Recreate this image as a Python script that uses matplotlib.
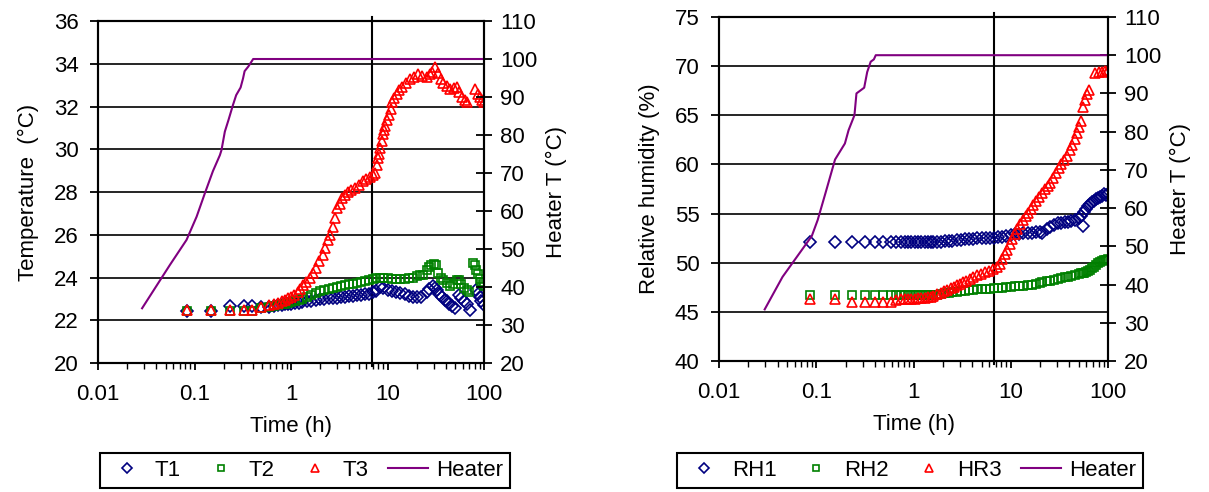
import numpy as np
import matplotlib
matplotlib.use("Agg")
import matplotlib.pyplot as plt
from matplotlib.ticker import LogLocator, NullFormatter

plt.rcParams['font.family'] = ['Liberation Sans', 'DejaVu Sans']
plt.rcParams['font.size'] = 16

#%% Data - temperature test (left panel)

heat_t_L = [0.0286, 0.0555, 0.0826, 0.105, 0.128, 0.155, 0.183, 0.190, 0.206, 0.225,
            0.250, 0.270, 0.300, 0.318, 0.330, 0.36, 0.405, 100]
heat_T_L = [34.4, 45.8, 52.4, 58.5, 64.7, 70.5, 74.7, 76.0, 80.9, 84.0,
            87.9, 90.5, 92.5, 94.9, 96.8, 98.0, 100, 100]

t1_t = [0.083, 0.148, 0.232, 0.324, 0.39, 0.484, 0.585, 0.66, 0.74, 0.8,
        0.86, 0.93, 1.0, 1.1, 1.2, 1.3, 1.45, 1.6, 1.8, 2.0,
        2.2, 2.45, 2.7, 3.0, 3.3, 3.6, 4.0, 4.4, 4.8, 5.3,
        5.8, 6.4, 7.0, 7.6, 8.3, 9.0, 10.0, 11.0, 12.2, 13.5,
        15.0, 16.5, 18.2, 20.0, 22.0, 25.5, 27.0, 29.5, 31.0, 32.6,
        34.5, 36.5, 39.0, 41.0, 43.5, 46.0, 50.0, 54.5, 58.0, 62.0,
        66.0, 71.0, 82.0, 86.0, 90.0, 94.0, 99.0]
t1_y = [22.45, 22.45, 22.65, 22.65, 22.65, 22.6, 22.6, 22.65, 22.7, 22.72,
        22.75, 22.75, 22.78, 22.8, 22.82, 22.85, 22.88, 22.9, 22.95, 23.0,
        23.0, 23.02, 23.04, 23.05, 23.08, 23.1, 23.12, 23.15, 23.18, 23.2,
        23.22, 23.25, 23.3, 23.35, 23.55, 23.5, 23.4, 23.35, 23.3, 23.27,
        23.22, 23.15, 23.1, 23.1, 23.1, 23.3, 23.45, 23.6, 23.5, 23.4,
        23.25, 23.1, 22.95, 22.9, 22.75, 22.65, 22.55, 23.2, 23.05, 22.9,
        22.75, 22.5, 23.4, 23.25, 23.1, 22.9, 22.7]

t2_t = [0.083, 0.148, 0.232, 0.324, 0.39, 0.484, 0.585, 0.66, 0.74, 0.8,
        0.86, 0.93, 1.0, 1.1, 1.2, 1.3, 1.45, 1.6, 1.8, 2.0,
        2.2, 2.45, 2.7, 3.0, 3.3, 3.6, 4.0, 4.4, 4.8, 5.3,
        5.8, 6.4, 7.0, 7.6, 8.3, 9.0, 10.0, 11.0, 12.2, 13.5,
        15.0, 16.5, 18.2, 20.0, 21.7, 23.5, 25.5, 27.0, 28.5, 30.0,
        31.5, 33.5, 35.5, 37.8, 41.0, 44.0, 48.0, 52.0, 55.0, 58.0,
        62.0, 66.0, 70.0, 77.0, 80.0, 83.0, 86.0, 90.0, 94.0, 97.0, 100.0]
t2_y = [22.45, 22.45, 22.45, 22.45, 22.45, 22.55, 22.6, 22.65, 22.7, 22.75,
        22.78, 22.8, 22.85, 22.9, 22.95, 23.0, 23.1, 23.2, 23.27, 23.35,
        23.4, 23.45, 23.5, 23.55, 23.6, 23.65, 23.68, 23.7, 23.75, 23.78,
        23.82, 23.88, 23.95, 24.0, 24.0, 24.0, 23.97, 23.95, 23.95, 23.95,
        23.95, 23.97, 24.0, 24.05, 24.1, 24.1, 24.35, 24.5, 24.6, 24.65,
        24.6, 24.2, 24.0, 23.9, 23.75, 23.6, 23.7, 23.9, 23.9, 23.7,
        23.5, 23.4, 23.3, 24.7, 24.6, 24.35, 24.15, 23.95, 23.8, 23.7, 23.6]

t3_t = [0.083, 0.148, 0.232, 0.324, 0.39, 0.484, 0.585, 0.66, 0.74, 0.8,
        0.86, 0.93, 1.0, 1.08, 1.17, 1.25, 1.33, 1.44, 1.56, 1.68,
        1.81, 1.96, 2.12, 2.26, 2.4, 2.53, 2.7, 2.85, 3.0, 3.2,
        3.4, 3.65, 3.9, 4.2, 4.6, 5.0, 5.5, 6.0, 6.5, 7.0,
        7.4, 7.7, 8.0, 8.2, 8.4, 8.7, 9.0, 9.25, 9.5, 9.9,
        10.4, 10.8, 11.1, 11.7, 12.5, 13.2, 14.0, 15.5, 17.0, 18.8,
        20.6, 23.0, 25.5, 27.2, 29.0, 31.0, 33.6, 35.5, 37.8, 41.0,
        44.5, 48.5, 52.5, 55.5, 59.0, 63.0, 67.0, 81.0, 86.0, 91.0, 95.5, 100.0]
t3_y = [22.48, 22.48, 22.48, 22.48, 22.5, 22.63, 22.7, 22.75, 22.8, 22.88,
        22.95, 23.02, 23.1, 23.2, 23.3, 23.45, 23.65, 23.8, 24.0, 24.2,
        24.45, 24.75, 25.05, 25.4, 25.75, 26.0, 26.35, 26.8, 27.25, 27.45,
        27.7, 27.85, 28.0, 28.1, 28.2, 28.35, 28.5, 28.6, 28.7, 28.8,
        28.9, 29.25, 29.6, 29.8, 30.05, 30.4, 30.7, 30.9, 31.1, 31.35,
        31.6, 31.9, 32.2, 32.4, 32.6, 32.75, 32.9, 33.1, 33.3, 33.4,
        33.5, 33.45, 33.4, 33.5, 33.6, 33.85, 33.55, 33.3, 33.1, 32.95,
        32.8, 32.85, 32.9, 32.7, 32.45, 32.3, 32.2, 32.8, 32.6, 32.45, 32.3, 32.2]

#%% Data - humidity test (right panel)

heat_t_R = [0.0295, 0.045, 0.090, 0.1035, 0.124, 0.156, 0.197, 0.215, 0.247, 0.259,
            0.311, 0.334, 0.363, 0.391, 0.409, 100]
heat_T_R = [33.5, 42.0, 52.7, 56.9, 63.8, 72.7, 76.9, 80.4, 84.3, 90.0,
            91.5, 95.6, 98.3, 98.9, 100, 100]

rh_t = [0.086, 0.156, 0.232, 0.316, 0.40, 0.49, 0.58, 0.66, 0.75, 0.82,
        0.88, 0.95, 1.03, 1.1, 1.2, 1.3, 1.4, 1.5, 1.6, 1.75,
        1.9, 2.1, 2.3, 2.5, 2.8, 3.1, 3.4, 3.7, 4.1, 4.5,
        5.0, 5.5, 6.1, 6.7, 7.4, 8.2, 9.0, 10.0, 11.0, 12.2,
        13.5, 15.0, 16.5, 18.0, 20.0, 21.0, 23.5, 25.5, 28.0, 30.5,
        33.0, 36.0, 39.0, 42.0, 46.0, 50.0, 53.0, 55.0, 56.5, 59.0,
        62.0, 65.0, 68.0, 71.0, 75.0, 79.0, 83.0, 87.0, 91.0, 95.0, 100.0]
rh1 = [52.1, 52.1, 52.1, 52.1, 52.1, 52.1, 52.1, 52.1, 52.1, 52.1,
       52.1, 52.1, 52.1, 52.1, 52.1, 52.1, 52.1, 52.1, 52.1, 52.12,
       52.14, 52.16, 52.2, 52.25, 52.3, 52.35, 52.4, 52.42, 52.45, 52.48,
       52.5, 52.5, 52.52, 52.55, 52.6, 52.65, 52.75, 52.85, 52.9, 52.95,
       53.0, 53.0, 53.05, 53.1, 53.1, 53.05, 53.4, 53.6, 53.8, 54.0,
       54.05, 54.1, 54.15, 54.2, 54.3, 54.5, 54.8, 53.7, 55.2, 55.5,
       55.8, 56.0, 56.2, 56.3, 56.5, 56.6, 56.7, 56.8, 57.0, 56.9, 57.0]
rh2 = [46.7, 46.7, 46.7, 46.7, 46.7, 46.7, 46.7, 46.7, 46.7, 46.7,
       46.7, 46.7, 46.7, 46.7, 46.7, 46.7, 46.7, 46.7, 46.7, 46.75,
       46.8, 46.9, 46.95, 47.0, 47.05, 47.1, 47.15, 47.2, 47.25, 47.28,
       47.3, 47.33, 47.36, 47.4, 47.43, 47.47, 47.5, 47.55, 47.58, 47.62,
       47.66, 47.7, 47.78, 47.85, 47.95, 48.0, 48.1, 48.18, 48.28, 48.35,
       48.42, 48.5, 48.58, 48.65, 48.75, 48.85, 48.92, 48.97, 49.0, 49.1,
       49.2, 49.3, 49.45, 49.6, 49.8, 49.95, 50.05, 50.15, 50.25, 50.3, 50.35]

hr3_t = [0.086, 0.156, 0.232, 0.316, 0.40, 0.49, 0.58, 0.66, 0.75, 0.82,
         0.88, 0.95, 1.03, 1.1, 1.2, 1.3, 1.4, 1.5, 1.6, 1.75,
         1.9, 2.05, 2.2, 2.4, 2.6, 2.8, 3.0, 3.25, 3.5, 3.8,
         4.1, 4.5, 4.9, 5.4, 6.0, 6.6, 7.2, 7.7, 8.2, 8.7,
         9.2, 9.8, 10.4, 11.0, 11.7, 12.5, 13.3, 14.2, 15.0, 16.0,
         17.0, 18.2, 19.5, 21.0, 22.5, 24.0, 25.5, 27.2, 29.0, 31.0,
         33.0, 35.5, 38.0, 40.5, 43.0, 45.5, 48.0, 50.5, 53.0, 55.5,
         58.0, 61.0, 64.0, 74.0, 80.0, 86.0, 92.0, 100.0]
hr3 = [46.35, 46.35, 46.05, 46.05, 46.05, 46.05, 46.05, 46.25, 46.3, 46.35,
       46.35, 46.35, 46.35, 46.38, 46.4, 46.45, 46.5, 46.55, 46.6, 46.8,
       46.95, 47.1, 47.25, 47.4, 47.55, 47.7, 47.85, 48.0, 48.15, 48.35,
       48.55, 48.75, 48.9, 49.05, 49.2, 49.35, 49.6, 49.9, 50.4, 50.9,
       51.3, 51.9, 52.4, 52.9, 53.4, 53.9, 54.3, 54.7, 55.1, 55.5,
       55.9, 56.3, 56.7, 57.1, 57.5, 57.8, 58.1, 58.6, 59.1, 59.6,
       60.0, 60.4, 60.9, 61.5, 62.0, 62.6, 63.2, 63.8, 64.4, 65.8,
       66.6, 67.2, 67.6, 69.3, 69.4, 69.4, 69.5, 69.6]

#%% Plot

NAVY, GREEN, RED, PURPLE = '#000080', '#008000', '#FF0000', '#800080'

def style_panel(ax, ylim, yticks, ylabel, vline):
    ax.set_xscale('log')
    ax.set_xlim(0.01, 100)
    ax.set_ylim(*ylim)
    ax.set_yticks(yticks)
    ax.set_xticks([0.01, 0.1, 1, 10, 100])
    ax.set_xticklabels(['0.01', '0.1', '1', '10', '100'])
    ax.xaxis.set_minor_locator(LogLocator(base=10, subs=np.arange(2, 10)))
    ax.xaxis.set_minor_formatter(NullFormatter())
    ax.yaxis.grid(True, color='black', lw=1.2)
    ax.set_axisbelow(True)
    ax.tick_params(axis='y', direction='out', length=6, width=1.3, pad=8)
    ax.tick_params(axis='x', which='major', direction='out', length=5, width=1.3, pad=10)
    ax.tick_params(axis='x', which='minor', direction='out', length=4, width=1.0)
    for s in ax.spines.values():
        s.set_linewidth(1.5)
    ax.set_xlabel('Time (h)', labelpad=8)
    ax.set_ylabel(ylabel, labelpad=11)
    # secondary x-axis crossing line
    ax.axvline(vline, ymin=-0.01, ymax=1.012, color='black', lw=1.5,
               clip_on=False, zorder=1.5)

def style_heater(ax2):
    ax2.set_ylim(20, 110)
    ax2.set_yticks(range(20, 111, 10))
    ax2.tick_params(axis='y', direction='inout', length=11, width=1.3, pad=6)
    for s in ax2.spines.values():
        s.set_linewidth(1.5)
    ax2.set_ylabel('Heater T (°C)', labelpad=6)

mk = dict(ls='none', mfc='none', mew=1.2)

fig = plt.figure(figsize=(12.09, 4.92), dpi=100)

# --- temperature
axL = fig.add_axes([0.0811, 0.2622, 0.3193, 0.6951])
style_panel(axL, (20, 36), range(20, 37, 2), 'Temperature  (°C)', 6.9)
h1, = axL.plot(t1_t, t1_y, marker='D', ms=6, mec=NAVY, label='T1', **mk)
h2, = axL.plot(t2_t, t2_y, marker='s', ms=6, mec=GREEN, label='T2', **mk)
h3, = axL.plot(t3_t, t3_y, marker='^', ms=7, mec=RED, label='T3', **mk)
axL2 = axL.twinx()
style_heater(axL2)
h4, = axL2.plot(heat_t_L, heat_T_L, color=PURPLE, lw=1.5, label='Heater')

# --- humidity
axR = fig.add_axes([0.5947, 0.2663, 0.3218, 0.6992])
style_panel(axR, (40, 75), range(40, 76, 5), 'Relative humidity (%)', 6.7)
g1, = axR.plot(rh_t, rh1, marker='D', ms=6, mec=NAVY, label='RH1', **mk)
g2, = axR.plot(rh_t, rh2, marker='s', ms=6, mec=GREEN, label='RH2', **mk)
g3, = axR.plot(hr3_t, hr3, marker='^', ms=7, mec=RED, label='HR3', **mk)
axR2 = axR.twinx()
style_heater(axR2)
g4, = axR2.plot(heat_t_R, heat_T_R, color=PURPLE, lw=1.5, label='Heater')

leg_kw = dict(loc='center', ncol=4, frameon=True, fancybox=False, edgecolor='black',
              framealpha=1, handlelength=1.8, handletextpad=0.35, columnspacing=0.9,
              borderpad=0.3, markerscale=0.8, fontsize=16)
legL = fig.legend([h1, h2, h3, h4], ['T1', 'T2', 'T3', 'Heater'],
                  bbox_to_anchor=(0.2523, 0.0437), **leg_kw)
legR = fig.legend([g1, g2, g3, g4], ['RH1', 'RH2', 'HR3', 'Heater'],
                  bbox_to_anchor=(0.7527, 0.0437), **leg_kw)
for leg in (legL, legR):
    leg.get_frame().set_linewidth(1.5)

fig.savefig('out.png', dpi=100)
